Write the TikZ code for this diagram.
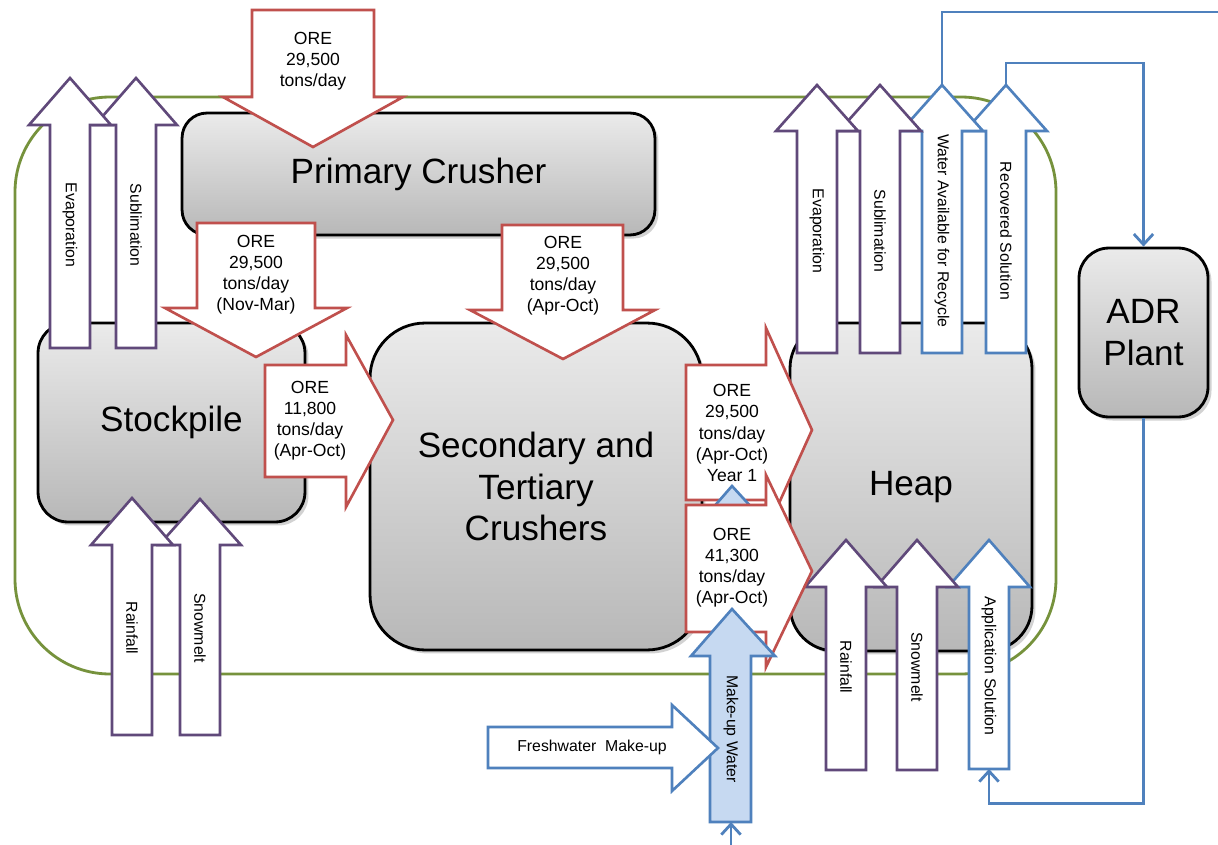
\documentclass[tikz,border=0pt]{standalone}
\usepackage{fontspec}
\setmainfont{Liberation Sans}
\usepackage{tikz}
\usetikzlibrary{
	arrows.meta,
	shadows
}
\definecolor{OreRed}{RGB}{192,80,77}
\definecolor{WaterBlue}{RGB}{79,129,189}
\definecolor{LightBlue}{RGB}{198,217,241}
\definecolor{DarkPurple}{RGB}{96,73,122}
\definecolor{OliveGreen}{RGB}{118,146,60}

\begin{document}
\begin{tikzpicture}[x=0.02cm, y=-0.02cm,
	crusher/.style={draw=black, line width=1.6pt, inner sep=0pt, align=center,
		top color=black!8, bottom color=black!28,
		drop shadow={shadow xshift=2pt, shadow yshift=-2pt, opacity=0.35},
		font=\fontsize{20}{23.5}\selectfont},
	ore/.style={draw=OreRed, fill=white, line width=1.5pt},
	gain/.style={draw=DarkPurple, fill=white, line width=1.5pt},
	sol/.style={draw=WaterBlue, fill=white, line width=1.5pt},
	makeup/.style={draw=WaterBlue, fill=LightBlue, line width=1.5pt},
	orelbl/.style={align=center, font=\fontsize{10}{12}\selectfont},
	vlbl/.style={rotate=-90, font=\fontsize{9}{11}\selectfont},
	pipe/.style={draw=WaterBlue, line width=1.6pt, -{Straight Barb[length=6pt,width=11pt]}}]
		\fill[white] (0,0) rectangle (1218,845);
		\useasboundingbox (0,0) rectangle (1218,845);
		\draw[OliveGreen, line width=1.6pt, rounded corners=1.9cm] (15,97) rectangle (1056,674);
		\node[crusher, minimum width=9.46cm, minimum height=2.44cm, rounded corners=0.5cm] (prim) at (418.5,174) {Primary Crusher};
		\node[crusher, minimum width=5.34cm, minimum height=3.98cm, rounded corners=0.6cm] (stock) at (171.5,422.5) {Stockpile};
		\node[crusher, minimum width=6.64cm, minimum height=6.54cm, rounded corners=1.1cm] (sec) at (536,486.5) {Secondary and\\Tertiary\\Crushers};
		\node[crusher, minimum width=4.84cm, minimum height=6.56cm, rounded corners=0.9cm] (heap) at (911,487) {Heap};
		\node[crusher, minimum width=2.58cm, minimum height=3.38cm, rounded corners=0.6cm] (ADR) at (1143.5,332.5) {ADR\\Plant};
		\draw[gain] (116,348) -- (116,125) -- (95,125) -- (136,78) -- (177,125) -- (156,125) -- (156,348) -- cycle;
		\draw[gain] (50,348) -- (50,125) -- (29,125) -- (70,78) -- (111,125) -- (90,125) -- (90,348) -- cycle;
		\draw[gain] (180,735) -- (180,545) -- (159,545) -- (200,499) -- (241,545) -- (220,545) -- (220,735) -- cycle;
		\draw[gain] (112,735) -- (112,545) -- (91,545) -- (132,498) -- (173,545) -- (152,545) -- (152,735) -- cycle;
		\draw[sol] (986,353) -- (986,131) -- (965,131) -- (1006,85) -- (1047,131) -- (1026,131) -- (1026,353) -- cycle;
		\draw[sol] (922,353) -- (922,131) -- (901,131) -- (942,85) -- (983,131) -- (962,131) -- (962,353) -- cycle;
		\draw[gain] (860,353) -- (860,131) -- (839,131) -- (880,85) -- (921,131) -- (900,131) -- (900,353) -- cycle;
		\draw[gain] (797,353) -- (797,131) -- (776,131) -- (817,85) -- (858,131) -- (837,131) -- (837,353) -- cycle;
		\draw[sol] (969,769) -- (969,587) -- (948,587) -- (989,540) -- (1030,587) -- (1009,587) -- (1009,769) -- cycle;
		\draw[gain] (897,770) -- (897,587) -- (876,587) -- (917,540) -- (958,587) -- (937,587) -- (937,770) -- cycle;
		\draw[gain] (826,770) -- (826,587) -- (805,587) -- (846,540) -- (887,587) -- (866,587) -- (866,770) -- cycle;
		\draw[ore] (252,10) -- (374,10) -- (374,97) -- (403,97) -- (313,147) -- (223,97) -- (252,97) -- cycle;
		\draw[ore] (197,223) -- (315,223) -- (315,308) -- (347,308) -- (256,357) -- (165,308) -- (197,308) -- cycle;
		\draw[ore] (502,225) -- (623,225) -- (623,310) -- (655,310) -- (563,359) -- (470,310) -- (502,310) -- cycle;
		\draw[ore] (265,365) -- (346,365) -- (346,335) -- (393,420) -- (346,507) -- (346,477) -- (265,477) -- cycle;
		\draw[ore] (686,365) -- (766,365) -- (766,328) -- (812,430) -- (766,532) -- (766,500) -- (686,500) -- cycle;
		\draw[makeup] (691,533) -- (732,486) -- (775,533) -- cycle;
		\draw[ore] (686,505) -- (766,505) -- (766,475) -- (812,571) -- (766,667) -- (766,632) -- (686,632) -- cycle;
		\draw[makeup] (710,822) -- (710,656) -- (691,656) -- (732,609) -- (775,656) -- (751,656) -- (751,822) -- cycle;
		\draw[sol] (488,727) -- (672,727) -- (672,705) -- (718,748) -- (672,791) -- (672,768) -- (488,768) -- cycle;
		\coordinate (wtip) at (942,85);
		\coordinate (rtip) at (1006,85);
		\coordinate (edge) at (1218,12);
		\coordinate (abot) at (989,769);
		\coordinate (mbot) at (731,822);
		\coordinate (inlet) at (731,845);
		\draw[pipe, -] (wtip) |- (edge);
		\draw[pipe] (rtip) -- ++(0,-22) -| (ADR.north);
		\draw[pipe] (ADR.south) -- ++(0,385) -| (abot);
		\draw[pipe] (inlet) -- (mbot);
		\node[orelbl] (ore1) at (313,61) {ORE\\29,500\\tons/day};
		\node[orelbl] (ore2) at (256,275) {ORE\\29,500\\tons/day\\(Nov-Mar)};
		\node[orelbl] (ore3) at (563,276) {ORE\\29,500\\tons/day\\(Apr-Oct)};
		\node[orelbl] (ore4) at (310,421) {ORE\\11,800\\tons/day\\(Apr-Oct)};
		\node[orelbl] (ore5) at (732,433) {ORE\\29,500\\tons/day\\(Apr-Oct)\\Year 1};
		\node[orelbl] (ore6) at (732,568) {ORE\\41,300\\tons/day\\(Apr-Oct)};
		\node[vlbl] (evapL) at (70,225) {Evaporation};
		\node[vlbl] (sublL) at (136,225) {Sublimation};
		\node[vlbl] (rainL) at (132,628) {Rainfall};
		\node[vlbl] (snowL) at (200,628) {Snowmelt};
		\node[vlbl] (evapR) at (817,231) {Evaporation};
		\node[vlbl] (sublR) at (880,231) {Sublimation};
		\node[vlbl] (recyR) at (942,231) {Water Available for Recycle};
		\node[vlbl] (recoR) at (1006,231) {Recovered Solution};
		\node[vlbl] (rainR) at (846,667) {Rainfall};
		\node[vlbl] (snowR) at (917,667) {Snowmelt};
		\node[vlbl] (applR) at (989,666) {Application Solution};
		\node[vlbl] (mkup) at (731,729) {Make-up Water};
		\node[font=\fontsize{9}{11}\selectfont] (fresh) at (592,747) {Freshwater\ \ Make-up};
	\end{tikzpicture}
\end{document}
